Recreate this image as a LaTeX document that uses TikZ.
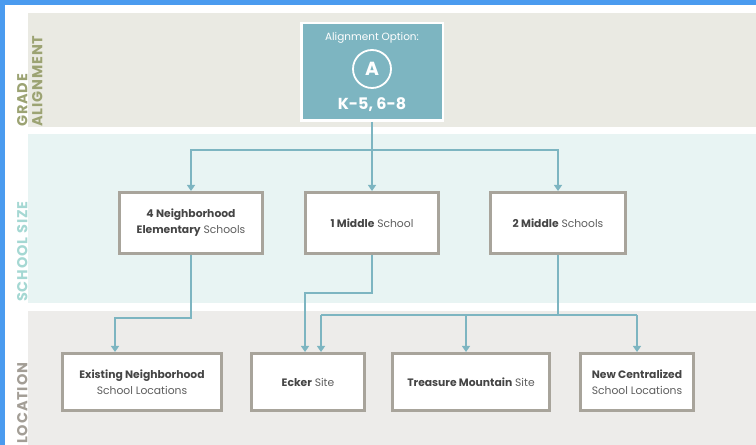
\documentclass[tikz,border=0pt]{standalone}
\usepackage{fontspec}
\setmainfont{Poppins}
\usetikzlibrary{arrows.meta}
\definecolor{chrome}{HTML}{4A9BEF}
\definecolor{bandA}{HTML}{EAEAE3}
\definecolor{bandB}{HTML}{E8F4F3}
\definecolor{bandC}{HTML}{EDECEA}
\definecolor{labA}{HTML}{9CA373}
\definecolor{labB}{HTML}{A5D8D3}
\definecolor{labC}{HTML}{A39E96}
\definecolor{teal}{HTML}{7DB5C1}
\definecolor{boxline}{HTML}{A8A49B}
\definecolor{txtdark}{HTML}{454545}
\definecolor{txtlight}{HTML}{5E5E5E}
\tikzset{
  box/.style={draw=boxline, line width=3bp, fill=white, align=center, inner sep=0pt,
    font=\fontsize{10.8}{16}\selectfont, text=txtlight},
  arr/.style={draw=teal, line width=1.3bp, -{Triangle[length=6bp,width=8bp]}},
  conn/.style={draw=teal, line width=1.3bp},
  sidelab/.style={rotate=90, anchor=north west, inner sep=0pt, align=left,
    font=\fontsize{14.5}{15}\selectfont\bfseries\addfontfeature{LetterSpace=6}}
}
\newcommand{\bt}[1]{{\bfseries\color{txtdark}#1}}
\begin{document}
\begin{tikzpicture}[x=1bp,y=-1bp]
\useasboundingbox (0,0) rectangle (756,445);
% chrome
\fill[chrome] (0,0) rectangle (756,5);
\fill[chrome] (0,0) rectangle (5,445);
% bands
\fill[bandA] (28,13) rectangle (756,127);
\fill[bandB] (28,134) rectangle (756,303);
\fill[bandC] (28,311) rectangle (756,445);
% side labels
\node[sidelab, text=labA] (lgrade) at (17,127) {GRADE\\ALIGNMENT};
\node[sidelab, text=labB] (lsize) at (17,302) {SCHOOL SIZE};
\node[sidelab, text=labC] (lloc) at (17,444) {LOCATION};
% top box
\node[draw=white, line width=2.5bp, fill=teal, minimum width=141.5bp, minimum height=97.5bp, inner sep=0pt] (top) at (372,72) {};
\node[text=white, font=\fontsize{10.5}{12}\selectfont, inner sep=0pt] (topt) at (372,38) {Alignment Option:};
\node[circle, draw=white, line width=1.8bp, minimum size=38bp, inner sep=0pt, text=white, font=\fontsize{19}{20}\selectfont\bfseries] (circA) at (372,69) {A};
\node[text=white, font=\fontsize{16}{18}\selectfont\bfseries, inner sep=0pt] (topk) at (372,105) {K-5, 6-8};
% row 2
\node[box, minimum width=143bp, minimum height=61bp] (r2a) at (191,223) {\bt{4 Neighborhood}\\\bt{Elementary} Schools};
\node[box, minimum width=133bp, minimum height=61bp] (r2b) at (372,223) {\bt{1 Middle} School};
\node[box, minimum width=135bp, minimum height=61bp] (r2c) at (558,223) {\bt{2 Middle} Schools};
% row 3
\node[box, minimum width=159bp, minimum height=57bp] (r3a) at (142,382) {\bt{Existing Neighborhood}\\School Locations};
\node[box, minimum width=113bp, minimum height=57bp] (r3b) at (308,382) {\bt{Ecker} Site};
\node[box, minimum width=157bp, minimum height=57bp] (r3c) at (471,382) {\bt{Treasure Mountain} Site};
\node[box, minimum width=113bp, minimum height=57bp] (r3d) at (637,382) {\bt{New Centralized}\\School Locations};
% connectors top -> row 2
\coordinate (j1) at (372,150);
\draw[arr] (top.south) -- (r2b.north);
\draw[arr] (j1) -| (r2a.north);
\draw[arr] (j1) -| (r2c.north);
% r2a -> r3a
\coordinate (a1) at (191,318);
\coordinate (a2) at (115,318);
\draw[arr] (r2a.south) -- (a1) -- (a2) -- (a2 |- r3a.north);
% r2b -> r3b
\coordinate (b1) at (372,293);
\coordinate (b2) at (305,293);
\draw[arr] (r2b.south) -- (b1) -- (b2) -- (b2 |- r3b.north);
% r2c -> r3b, r3c, r3d
\coordinate (c1) at (558,315);
\coordinate (c2) at (321,315);
\coordinate (c3) at (466,315);
\coordinate (c4) at (637,315);
\draw[conn] (r2c.south) -- (c1);
\draw[conn] (c2) -- (c4);
\draw[arr] (c2) -- (c2 |- r3b.north);
\draw[arr] (c3) -- (c3 |- r3c.north);
\draw[arr] (c4) -- (r3d.north);
\end{tikzpicture}
\end{document}
